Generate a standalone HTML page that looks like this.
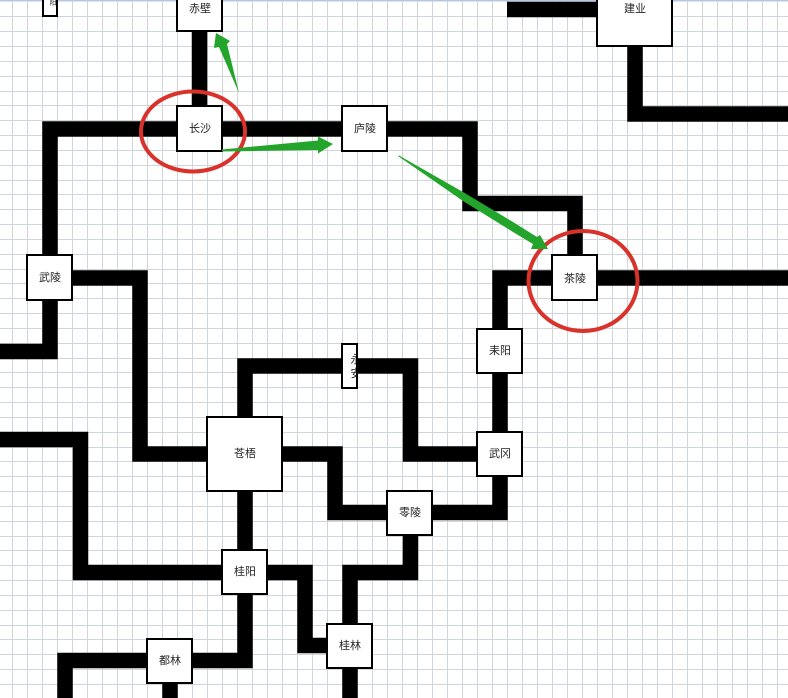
<!DOCTYPE html>
<html lang="zh">
<head>
<meta charset="utf-8">
<title>地图</title>
<style>
html,body{margin:0;padding:0;background:#fff;width:788px;height:698px;overflow:hidden}
svg{display:block}
text{font-family:"Liberation Sans","Noto Sans CJK SC",sans-serif;font-size:11px;fill:#222;text-anchor:middle;dominant-baseline:central}
.n{fill:#fff;stroke:#000;stroke-width:2;shape-rendering:crispEdges}
.l{fill:none;stroke:#000;stroke-width:15.5;stroke-linejoin:miter;stroke-linecap:butt}
.g{fill:none;stroke:#d0d5da;stroke-width:1;shape-rendering:crispEdges}
.r{fill:none;stroke:#d9322a;stroke-width:4}
.a{fill:#22a52a}
</style>
</head>
<body>
<svg width="788" height="698" viewBox="0 0 788 698" xmlns="http://www.w3.org/2000/svg">
<defs>
<clipPath id="c"><rect x="343" y="344" width="13" height="43"/></clipPath>
</defs>
<rect width="788" height="698" fill="#fff"/>
<path class="g" d="M12.500 0V698M27.500 0V698M42.500 0V698M57.500 0V698M72.500 0V698M87.500 0V698M102.500 0V698M117.500 0V698M132.500 0V698M147.500 0V698M162.500 0V698M177.500 0V698M192.500 0V698M207.500 0V698M222.500 0V698M237.500 0V698M252.500 0V698M267.500 0V698M282.500 0V698M297.500 0V698M312.500 0V698M327.500 0V698M342.500 0V698M357.500 0V698M372.500 0V698M387.500 0V698M402.500 0V698M417.500 0V698M432.500 0V698M447.500 0V698M462.500 0V698M477.500 0V698M492.500 0V698M507.500 0V698M522.500 0V698M537.500 0V698M552.500 0V698M567.500 0V698M582.500 0V698M597.500 0V698M612.500 0V698M627.500 0V698M642.500 0V698M657.500 0V698M672.500 0V698M687.500 0V698M702.500 0V698M717.500 0V698M732.500 0V698M747.500 0V698M762.500 0V698M777.500 0V698"/>
<path class="g" d="M0 16.500H788M0 31.500H788M0 46.500H788M0 61.500H788M0 76.500H788M0 91.500H788M0 105.500H788M0 120.500H788M0 135.500H788M0 150.500H788M0 165.500H788M0 180.500H788M0 194.500H788M0 209.500H788M0 224.500H788M0 239.500H788M0 254.500H788M0 269.500H788M0 283.500H788M0 298.500H788M0 313.500H788M0 328.500H788M0 343.500H788M0 358.500H788M0 372.500H788M0 387.500H788M0 402.500H788M0 417.500H788M0 432.500H788M0 447.500H788M0 461.500H788M0 476.500H788M0 491.500H788M0 506.500H788M0 521.500H788M0 536.500H788M0 550.500H788M0 565.500H788M0 580.500H788M0 595.500H788M0 610.500H788M0 625.500H788M0 639.500H788M0 654.500H788M0 669.500H788M0 684.500H788"/>
<rect width="788" height="1.500" fill="#b9c6e2"/>

<!-- connectors -->
<path class="l" d="M199.500 30V110"/>
<path class="l" d="M0 351.500H50V129H470V203.500H575V260"/>
<path class="l" d="M60 278H140V454H215"/>
<path class="l" d="M788 278H500V512.500H335V454H275"/>
<path class="l" d="M480 454H410.500V366H245V420"/>
<path class="l" d="M245 485V660.500H65V698"/>
<path class="l" d="M0 439.500H80.500V572.500H305V645.500H335"/>
<path class="l" d="M410.500 530V572.500H350V698"/>
<path class="l" d="M170 680V698"/>
<path class="l" d="M507 9.500H600"/>
<path class="l" d="M635 40V114H788"/>

<!-- nodes -->
<rect class="n" x="43" y="-5" width="14" height="21"/>
<rect class="n" x="177" y="-10" width="45" height="41"/>
<rect class="n" x="597" y="-10" width="75" height="56"/>
<rect class="n" x="177" y="106" width="45" height="45"/>
<rect class="n" x="342" y="106" width="45" height="45"/>
<rect class="n" x="27" y="255" width="45" height="45"/>
<rect class="n" x="552" y="255" width="45" height="45"/>
<rect class="n" x="477" y="329" width="45" height="44"/>
<rect class="n" x="342" y="344" width="15" height="44"/>
<rect class="n" x="207" y="417" width="75" height="74"/>
<rect class="n" x="477" y="432" width="45" height="44"/>
<rect class="n" x="387" y="491" width="45" height="44"/>
<rect class="n" x="222" y="550" width="45" height="44"/>
<rect class="n" x="327" y="624" width="45" height="44"/>
<rect class="n" x="147" y="639" width="45" height="44"/>

<!-- labels -->
<text x="53" y="3" style="font-size:7px">阳</text>
<text x="200" y="9">赤壁</text>
<text x="635" y="9">建业</text>
<text x="200" y="129">长沙</text>
<text x="365" y="129">庐陵</text>
<text x="50" y="278">武陵</text>
<text x="575" y="279">茶陵</text>
<text x="500" y="351">耒阳</text>
<g clip-path="url(#c)">
<text x="356" y="360">永</text>
<text x="356" y="374">安</text>
</g>
<text x="245" y="454">苍梧</text>
<text x="500" y="454">武冈</text>
<text x="410" y="513">零陵</text>
<text x="245" y="572">桂阳</text>
<text x="350" y="646">桂林</text>
<text x="170" y="661">都林</text>

<!-- red circles -->
<ellipse class="r" cx="193" cy="131.500" rx="52" ry="40"/>
<ellipse class="r" cx="583" cy="281" rx="54.500" ry="50"/>

<!-- green arrows -->
<polygon class="a" points="216,33 230,41 227,44 239,93 219,47 214,48"/>
<polygon class="a" points="222,149.500 318,140.500 318,136.500 333,144 318,153.500 318,150 222,151.500"/>
<polygon class="a" points="398,156 399,155.500 463,192 513,222 537,237 540,235 548,249 531,249 533,244 513,232 463,201"/>
</svg>
</body>
</html>
